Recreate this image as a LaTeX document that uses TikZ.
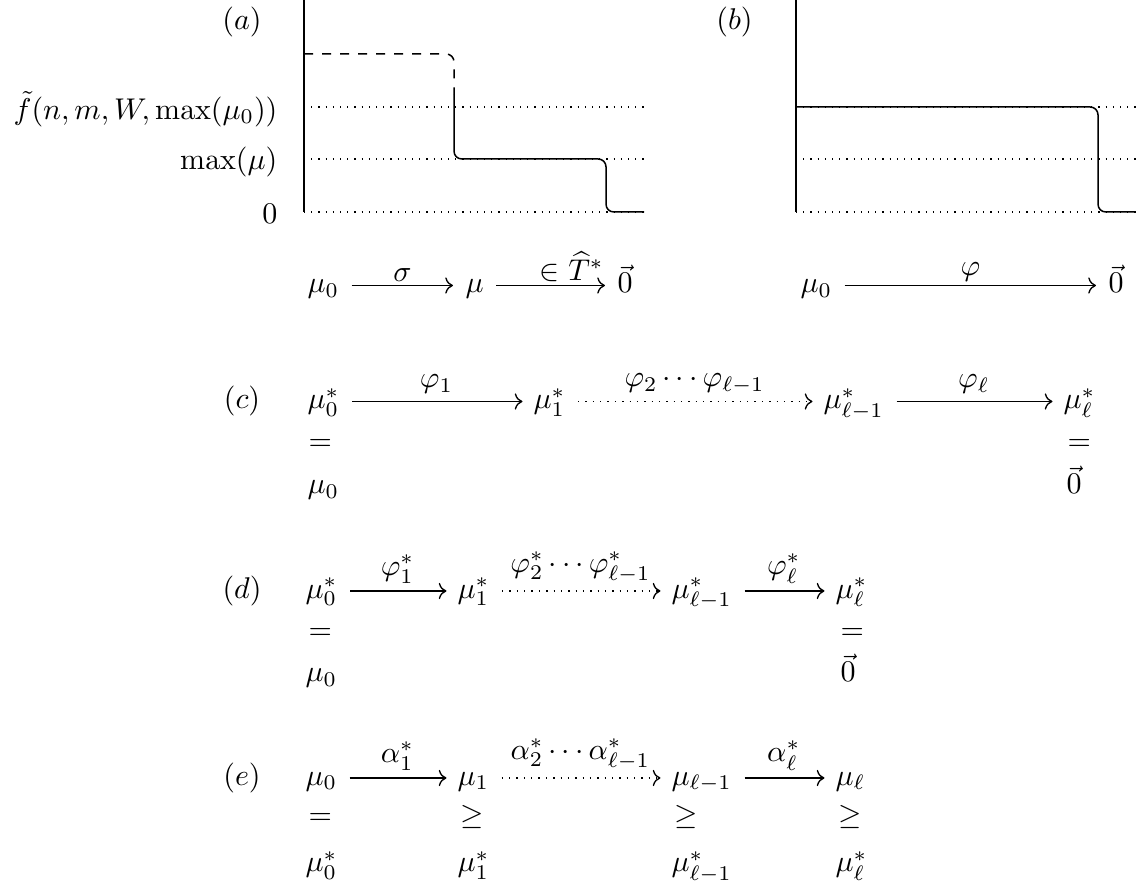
\documentclass[tikz,border=0pt]{standalone}
\usepackage{amsmath,amssymb}
\usetikzlibrary{calc,arrows.meta}

\tikzset{
  cell/.style={anchor=base west, inner sep=0pt, text height=7.5pt, text depth=2.5pt},
  panel/.style={anchor=base, inner sep=0pt},
  ylab/.style={anchor=base east, inner sep=0pt},
  arr/.style={-{Computer Modern Rightarrow}, line width=0.45pt,
              shorten <=4pt, shorten >=3.5pt},
  lbl/.style={above=#1, inner sep=0pt},
  lbl/.default=2.4pt,
  guide/.style={dotted, line width=0.4pt},
  axisline/.style={line width=0.6pt},
  stair/.style={line width=0.5pt, rounded corners=2.6pt}
}

\begin{document}
\begin{tikzpicture}[x=0.33333pt, y=-0.33333pt]
\useasboundingbox (0,0) rectangle (1136,890);

\def\ax{304}     % x of axis (a)
\def\bx{796}     % x of axis (b)
\def\rc{409}     % baselines of rows c, d, e
\def\rd{598.5}
\def\re{785.5}

% ---- plot (a)
\node[panel] (pa) at (242,29.5) {$(a)$};
\draw[axisline] (\ax,0) -- (\ax,212);
\foreach \yy in {107,159,212}
  \draw[guide] (\ax,\yy) -- (644,\yy);
\draw[stair, dashed] (\ax,54) -- (454,54) -- (454,95);
\draw[stair] (454,95) -- (454,159) -- (606,159) -- (606,212) -- (644,212);
\node[ylab] (fa) at (278,119.5) {$\tilde{f}(n,m,W,\max(\mu_0))$};
\node[ylab] (ma) at (278,169.5) {$\max(\mu)$};
\node[ylab] (za) at (278,223.5) {$0$};

% ---- plot (b)
\node[panel] (pb) at (734.5,29.5) {$(b)$};
\draw[axisline] (\bx,0) -- (\bx,212);
\foreach \yy in {107,159,212}
  \draw[guide] (\bx,\yy) -- (1136,\yy);
\draw[stair] (\bx,107) -- (1098,107) -- (1098,212) -- (1136,212);

% ---- maps under the plots
\node[cell] (a0) at (307,293) {$\mu_0$};
\node[cell] (a1) at (465,293) {$\mu$};
\node[cell] (a2) at (617,293) {$\vec{0}$};
\draw[arr, shorten >=4pt] (a0) -- node[lbl=1pt] {$\sigma$} (a1);
\draw[arr, shorten >=4pt] (a1) -- node[lbl=1pt, pos=0.66] {$\in\widehat{T}^{*}$} (a2);

\node[cell] (b0) at (800,293) {$\mu_0$};
\node[cell] (b1) at (1108,293) {$\vec{0}$};
\draw[arr, shorten >=4pt] (b0) -- node[lbl=1pt] {$\varphi$} (b1);

% ---- row (c)
\node[panel] (pc) at (242,\rc) {$(c)$};
\node[cell] (c0) at (307,\rc) {$\mu_0^{*}$};
\node[cell] (c1) at (533,\rc) {$\mu_1^{*}$};
\node[cell] (c2) at (823,\rc) {$\mu_{\ell-1}^{*}$};
\node[cell] (c3) at (1063,\rc) {$\mu_\ell^{*}$};
\node[cell] (c0e) at (308,450.5) {$=$};
\node[cell] (c0b) at (307,494) {$\mu_0$};
\node[cell] (c3e) at (1067,450.5) {$=$};
\node[cell] (c3b) at (1066,494) {$\vec{0}$};
\draw[arr] (c0) -- node[lbl] {$\varphi_1$} (c1);
\draw[arr, dotted] (c1) -- node[lbl] {$\varphi_2\cdots\varphi_{\ell-1}$} (c2);
\draw[arr] (c2) -- node[lbl] {$\varphi_\ell$} (c3);

% ---- row (d)
\node[panel] (pd) at (242,\rd) {$(d)$};
\node[cell] (d0) at (305,\rd) {$\mu_0^{*}$};
\node[cell] (d1) at (457,\rd) {$\mu_1^{*}$};
\node[cell] (d2) at (671,\rd) {$\mu_{\ell-1}^{*}$};
\node[cell] (d3) at (835,\rd) {$\mu_\ell^{*}$};
\node[cell] (d0e) at (308,639.5) {$=$};
\node[cell] (d0b) at (305,682) {$\mu_0$};
\node[cell] (d3e) at (840,639.5) {$=$};
\node[cell] (d3b) at (840,682) {$\vec{0}$};
\draw[arr] (d0) -- node[lbl] {$\varphi_1^{*}$} (d1);
\draw[arr, dotted] (d1) -- node[lbl] {$\varphi_2^{*}\cdots\varphi_{\ell-1}^{*}$} (d2);
\draw[arr] (d2) -- node[lbl] {$\varphi_\ell^{*}$} (d3);

% ---- row (e)
\node[panel] (pe) at (242,\re) {$(e)$};
\node[cell] (e0) at (305,\re) {$\mu_0$};
\node[cell] (e1) at (457,\re) {$\mu_1$};
\node[cell] (e2) at (671,\re) {$\mu_{\ell-1}$};
\node[cell] (e3) at (835,\re) {$\mu_\ell$};
\node[cell] (e0e) at (308,824.5) {$=$};
\foreach \cx/\nm in {460/1, 674/2, 838/3}
  \node[cell] (e\nm e) at (\cx,824.5) {$\geq$};
\node[cell] (e0b) at (305,872) {$\mu_0^{*}$};
\node[cell] (e1b) at (457,872) {$\mu_1^{*}$};
\node[cell] (e2b) at (671,872) {$\mu_{\ell-1}^{*}$};
\node[cell] (e3b) at (835,872) {$\mu_\ell^{*}$};
\draw[arr] (e0) -- node[lbl] {$\alpha_1^{*}$} (e1);
\draw[arr, dotted] (e1) -- node[lbl] {$\alpha_2^{*}\cdots\alpha_{\ell-1}^{*}$} (e2);
\draw[arr] (e2) -- node[lbl] {$\alpha_\ell^{*}$} (e3);

\end{tikzpicture}
\end{document}
